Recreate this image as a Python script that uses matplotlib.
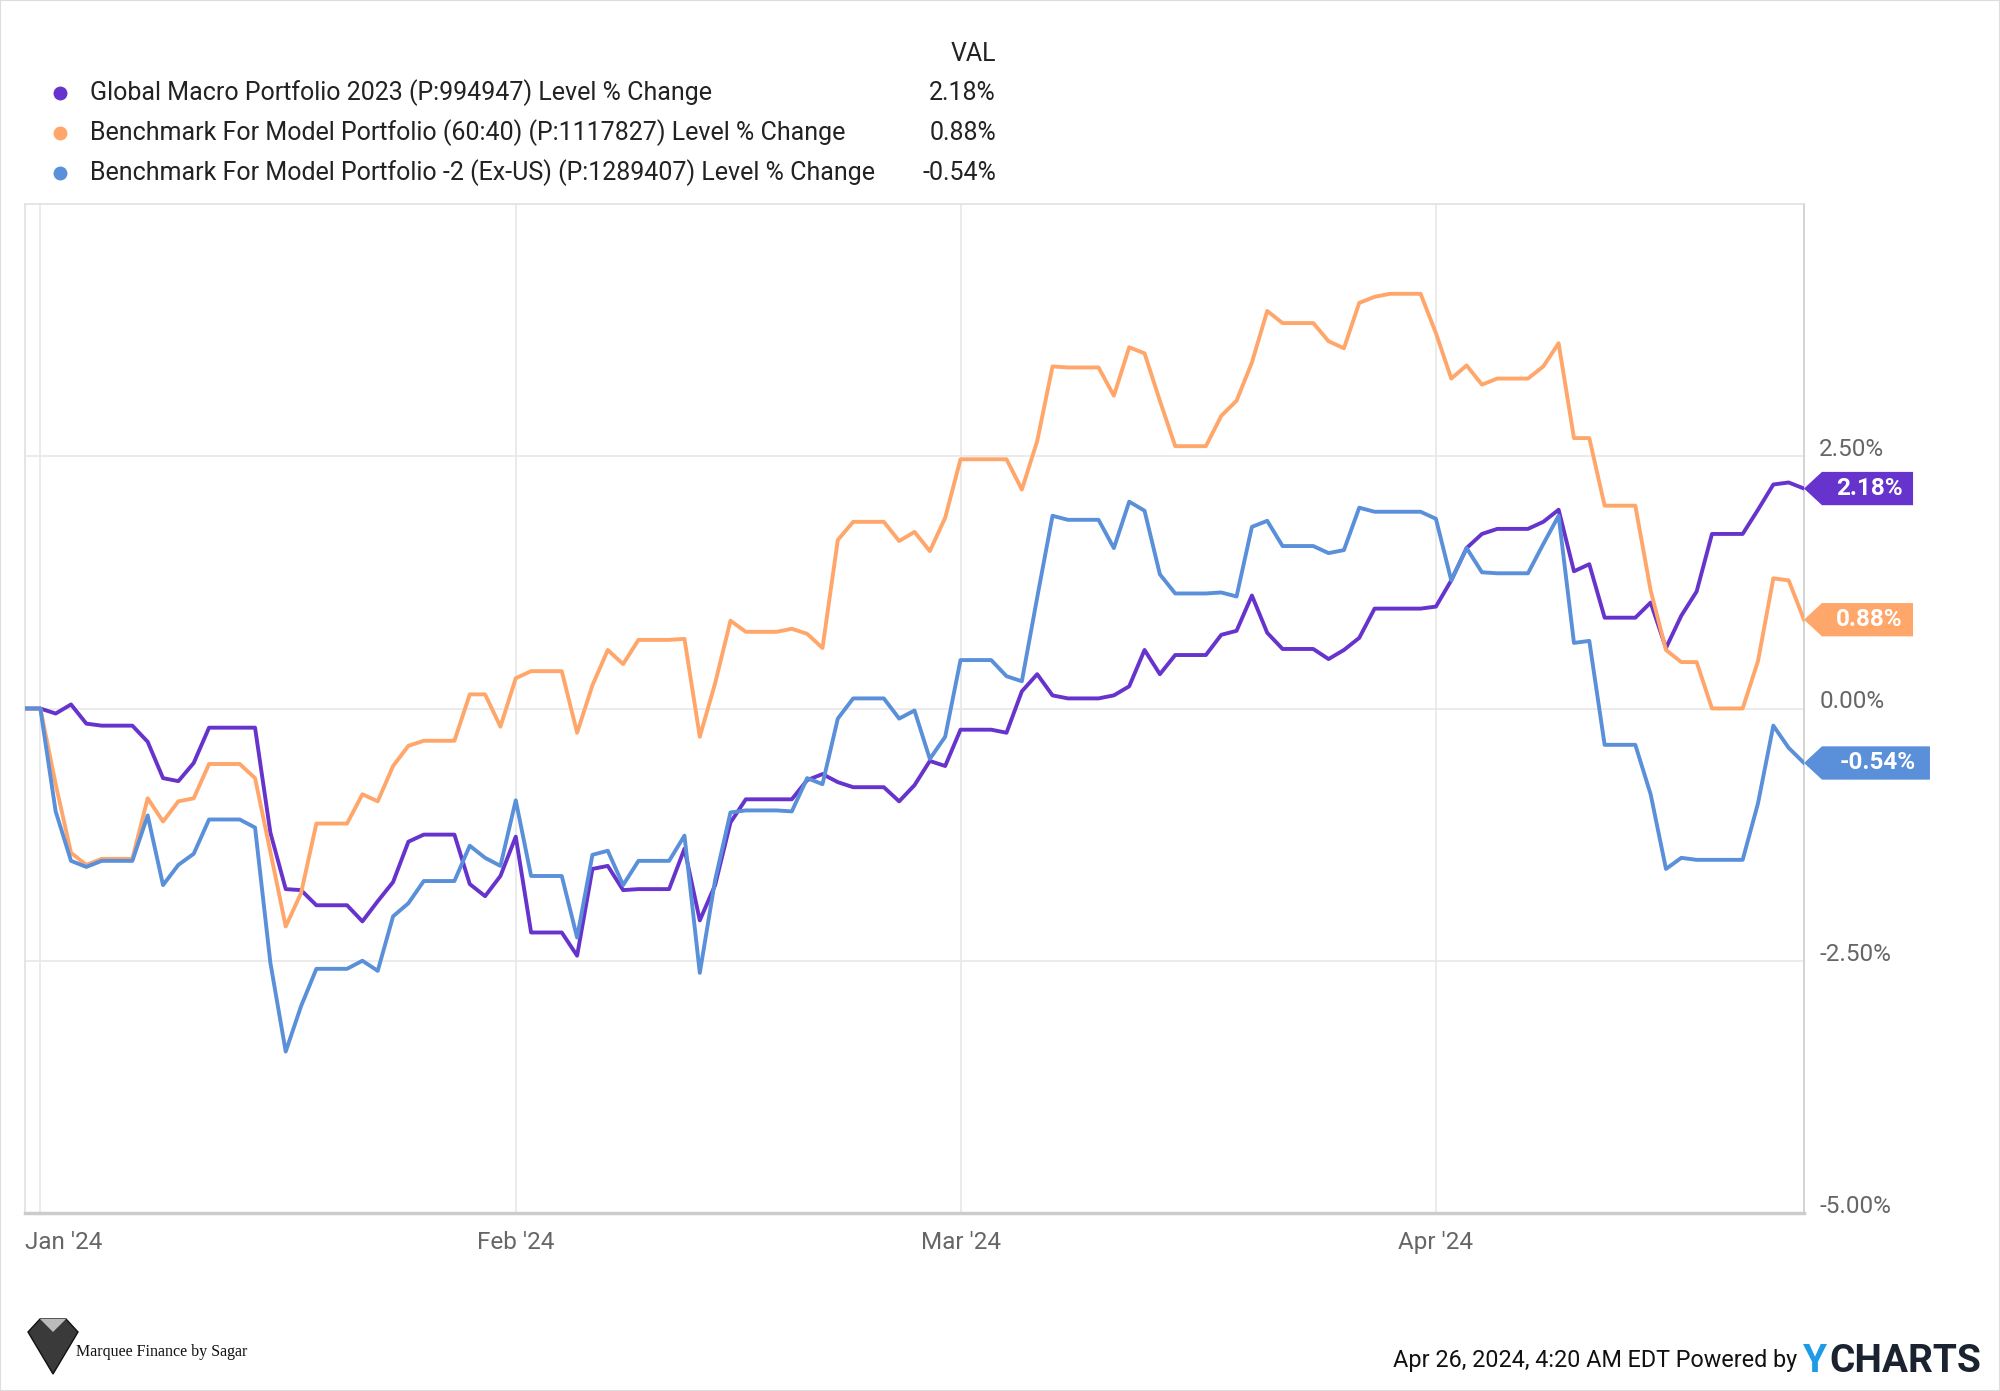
import matplotlib
matplotlib.use("Agg")
from matplotlib import pyplot as plt
from matplotlib.patches import Polygon, Rectangle
from matplotlib.lines import Line2D
from matplotlib.transforms import ScaledTranslation
import pandas as pd

plt.rcParams["font.family"] = ["Roboto", "DejaVu Sans"]

# daily values, Dec 31 2023 .. Apr 25 2024 (weekends carry the Friday value)
dates = pd.date_range("2023-12-31", "2024-04-25", freq="D")

global_macro = [
    0.00,
    # Jan
    0.00, -0.05, 0.04, -0.15, -0.17, -0.17, -0.17, -0.33, -0.69, -0.72,
    -0.54, -0.19, -0.19, -0.19, -0.19, -1.23, -1.79, -1.80, -1.95, -1.95,
    -1.95, -2.11, -1.91, -1.72, -1.32, -1.25, -1.25, -1.25, -1.74, -1.86,
    -1.66,
    # Feb
    -1.27, -2.22, -2.22, -2.22, -2.45, -1.59, -1.56, -1.80, -1.79, -1.79,
    -1.79, -1.39, -2.10, -1.75, -1.13, -0.90, -0.90, -0.90, -0.90, -0.71,
    -0.65, -0.73, -0.78, -0.78, -0.78, -0.92, -0.76, -0.52, -0.57,
    # Mar
    -0.21, -0.21, -0.21, -0.24, 0.17, 0.34, 0.13, 0.10, 0.10, 0.10,
    0.13, 0.22, 0.58, 0.34, 0.53, 0.53, 0.53, 0.73, 0.77, 1.12,
    0.75, 0.59, 0.59, 0.59, 0.49, 0.58, 0.70, 0.99, 0.99, 0.99,
    0.99,
    # Apr
    1.01, 1.27, 1.59, 1.73, 1.78, 1.78, 1.78, 1.85, 1.97, 1.36,
    1.43, 0.90, 0.90, 0.90, 1.05, 0.60, 0.92, 1.16, 1.73, 1.73,
    1.73, 1.97, 2.22, 2.24, 2.18,
]

benchmark_6040 = [
    0.00,
    # Jan
    0.00, -0.75, -1.43, -1.55, -1.49, -1.49, -1.49, -0.89, -1.12, -0.92,
    -0.89, -0.55, -0.55, -0.55, -0.69, -1.42, -2.16, -1.83, -1.14, -1.14,
    -1.14, -0.85, -0.92, -0.57, -0.37, -0.32, -0.32, -0.32, 0.14, 0.14,
    -0.18,
    # Feb
    0.30, 0.37, 0.37, 0.37, -0.24, 0.23, 0.58, 0.44, 0.68, 0.68,
    0.68, 0.69, -0.28, 0.25, 0.87, 0.76, 0.76, 0.76, 0.79, 0.74,
    0.60, 1.67, 1.85, 1.85, 1.85, 1.66, 1.75, 1.56, 1.89,
    # Mar
    2.47, 2.47, 2.47, 2.47, 2.17, 2.65, 3.39, 3.38, 3.38, 3.38,
    3.10, 3.58, 3.52, 3.05, 2.60, 2.60, 2.60, 2.90, 3.05, 3.43,
    3.94, 3.82, 3.82, 3.82, 3.64, 3.57, 4.02, 4.08, 4.11, 4.11,
    4.11,
    # Apr
    3.72, 3.27, 3.40, 3.21, 3.27, 3.27, 3.27, 3.39, 3.62, 2.68,
    2.68, 2.01, 2.01, 2.01, 1.17, 0.58, 0.46, 0.46, 0.00, 0.00,
    0.00, 0.47, 1.29, 1.27, 0.88,
]

benchmark_exus = [
    0.00,
    # Jan
    0.00, -1.02, -1.51, -1.57, -1.51, -1.51, -1.51, -1.06, -1.75, -1.55,
    -1.44, -1.10, -1.10, -1.10, -1.18, -2.52, -3.40, -2.95, -2.58, -2.58,
    -2.58, -2.50, -2.60, -2.06, -1.93, -1.71, -1.71, -1.71, -1.36, -1.48,
    -1.56,
    # Feb
    -0.91, -1.66, -1.66, -1.66, -2.27, -1.45, -1.41, -1.75, -1.51, -1.51,
    -1.51, -1.26, -2.62, -1.70, -1.03, -1.01, -1.01, -1.01, -1.02, -0.69,
    -0.75, -0.10, 0.10, 0.10, 0.10, -0.10, -0.02, -0.50, -0.28,
    # Mar
    0.48, 0.48, 0.48, 0.32, 0.27, 1.10, 1.91, 1.87, 1.87, 1.87,
    1.59, 2.05, 1.96, 1.33, 1.14, 1.14, 1.14, 1.15, 1.11, 1.80,
    1.86, 1.61, 1.61, 1.61, 1.54, 1.57, 1.99, 1.95, 1.95, 1.95,
    1.95,
    # Apr
    1.88, 1.27, 1.59, 1.35, 1.34, 1.34, 1.34, 1.63, 1.91, 0.65,
    0.67, -0.36, -0.36, -0.36, -0.85, -1.59, -1.48, -1.50, -1.50, -1.50,
    -1.50, -0.94, -0.17, -0.39, -0.54,
]

series_names = [
    "Global Macro Portfolio 2023 (P:994947) Level % Change",
    "Benchmark For Model Portfolio (60:40) (P:1117827) Level % Change",
    "Benchmark For Model Portfolio -2 (Ex-US) (P:1289407) Level % Change",
]
series_values = [global_macro, benchmark_6040, benchmark_exus]
series_colors = ["#6633cc", "#ffa66b", "#5a8fd9"]
last_labels = ["2.18%", "0.88%", "-0.54%"]

month_ticks = pd.to_datetime(["2024-01-01", "2024-02-01", "2024-03-01", "2024-04-01"])
month_labels = ["Jan '24", "Feb '24", "Mar '24", "Apr '24"]
y_ticks = [-5.0, -2.5, 0.0, 2.5]


W, H = 2000, 1391


def fx(x):
    return x / W


def fy(y):
    return 1 - y / H


fig = plt.figure(figsize=(W / 100, H / 100), dpi=100)
fig.patches.append(
    Rectangle((0, 0), 1, 1, transform=fig.transFigure, fill=False,
              ec="#dddddd", lw=1.5)
)

ax = fig.add_axes([fx(25), fy(1213), fx(1804) - fx(25), fy(204) - fy(1213)])

for i in range(len(series_values)):
    ax.plot(dates, series_values[i], color=series_colors[i], lw=2.8,
            zorder=3 + i, solid_joinstyle="round")

ax.set_xlim(dates[0], dates[-1])
ax.set_ylim(-5, 5)

ax.set_xticks(month_ticks)
ax.set_xticklabels(month_labels)
ax.set_yticks(y_ticks)
ax.set_yticklabels(["{:.2f}%".format(v) for v in y_ticks])
ax.yaxis.tick_right()
ax.tick_params(axis="both", length=0, labelsize=17.5, labelcolor="#666666")
ax.tick_params(axis="x", pad=13)
ax.tick_params(axis="y", pad=11)
for lab in ax.get_yticklabels():
    lab.set_va("baseline")
first = ax.get_xticklabels()[0]
first.set_ha("left")
first.set_transform(first.get_transform() + ScaledTranslation(-0.15, 0, fig.dpi_scale_trans))

ax.grid(True, color="#e8e8e8", lw=1.2, zorder=0)
ax.set_axisbelow(True)
for side in ["top", "left", "right"]:
    ax.spines[side].set_color("#e0e0e0")
    ax.spines[side].set_linewidth(1.2)
ax.spines["right"].set_color("#cccccc")
ax.spines["bottom"].set_color("#cccccc")
ax.spines["bottom"].set_linewidth(2.5)

# value tags at the right edge
trans = ax.get_yaxis_transform()
head = 0.0101
half_h = 0.165
for i in range(len(series_values)):
    v = series_values[i][-1]
    w = 0.0613 if len(last_labels[i]) < 6 else 0.0708
    pts = [(1.0, v), (1.0 + head, v + half_h), (1.0 + w, v + half_h),
           (1.0 + w, v - half_h), (1.0 + head, v - half_h)]
    ax.add_patch(Polygon(pts, closed=True, transform=trans, clip_on=False,
                         fc=series_colors[i], ec="none", zorder=10))
    ax.text(1.0 + (head + w) / 2 + 0.001, v, last_labels[i], transform=trans,
            ha="center", va="center", color="white", fontsize=17.5,
            fontweight="bold", clip_on=False, zorder=11)

# legend block
fig.text(fx(996), fy(54), "VAL", ha="right", va="center", fontsize=18, color="#222222")
row_y = [93, 133, 173]
for i in range(len(series_names)):
    fig.add_artist(Line2D([fx(60)], [fy(row_y[i])], marker="o", ms=9,
                          color=series_colors[i], transform=fig.transFigure))
    fig.text(fx(90), fy(row_y[i]), series_names[i], ha="left", va="center",
             fontsize=18, color="#222222")
    fig.text(fx(996), fy(row_y[i]), last_labels[i], ha="right", va="center",
             fontsize=18, color="#222222")

# footer
fig.text(fx(1797), fy(1361), "Apr 26, 2024, 4:20 AM EDT Powered by", ha="right",
         va="center", fontsize=16.8, color="#111111")
fig.text(fx(1803), fy(1362), "Y", ha="left", va="center", fontsize=28,
         fontweight="bold", color="#1e9be6")
fig.text(fx(1829), fy(1362), "CHARTS", ha="left", va="center", fontsize=28,
         fontweight="bold", color="#1b2330")

# little gem logo bottom left
gem = [(fx(28), fy(1332)), (fx(40), fy(1319)), (fx(66), fy(1319)),
       (fx(78), fy(1332)), (fx(53), fy(1374))]
fig.patches.append(Polygon(gem, closed=True, transform=fig.transFigure,
                           fc="#3a3a3a", ec="#111111", lw=1))
facet = [(fx(40), fy(1319)), (fx(53), fy(1332)), (fx(66), fy(1319))]
fig.patches.append(Polygon(facet, closed=True, transform=fig.transFigure,
                           fc="#bbbbbb", ec="none"))
fig.text(fx(76), fy(1352), "Marquee Finance by Sagar", ha="left", va="center",
         fontsize=11.5, family="Liberation Serif", color="#111111")

fig.savefig("out.png", dpi=100)
